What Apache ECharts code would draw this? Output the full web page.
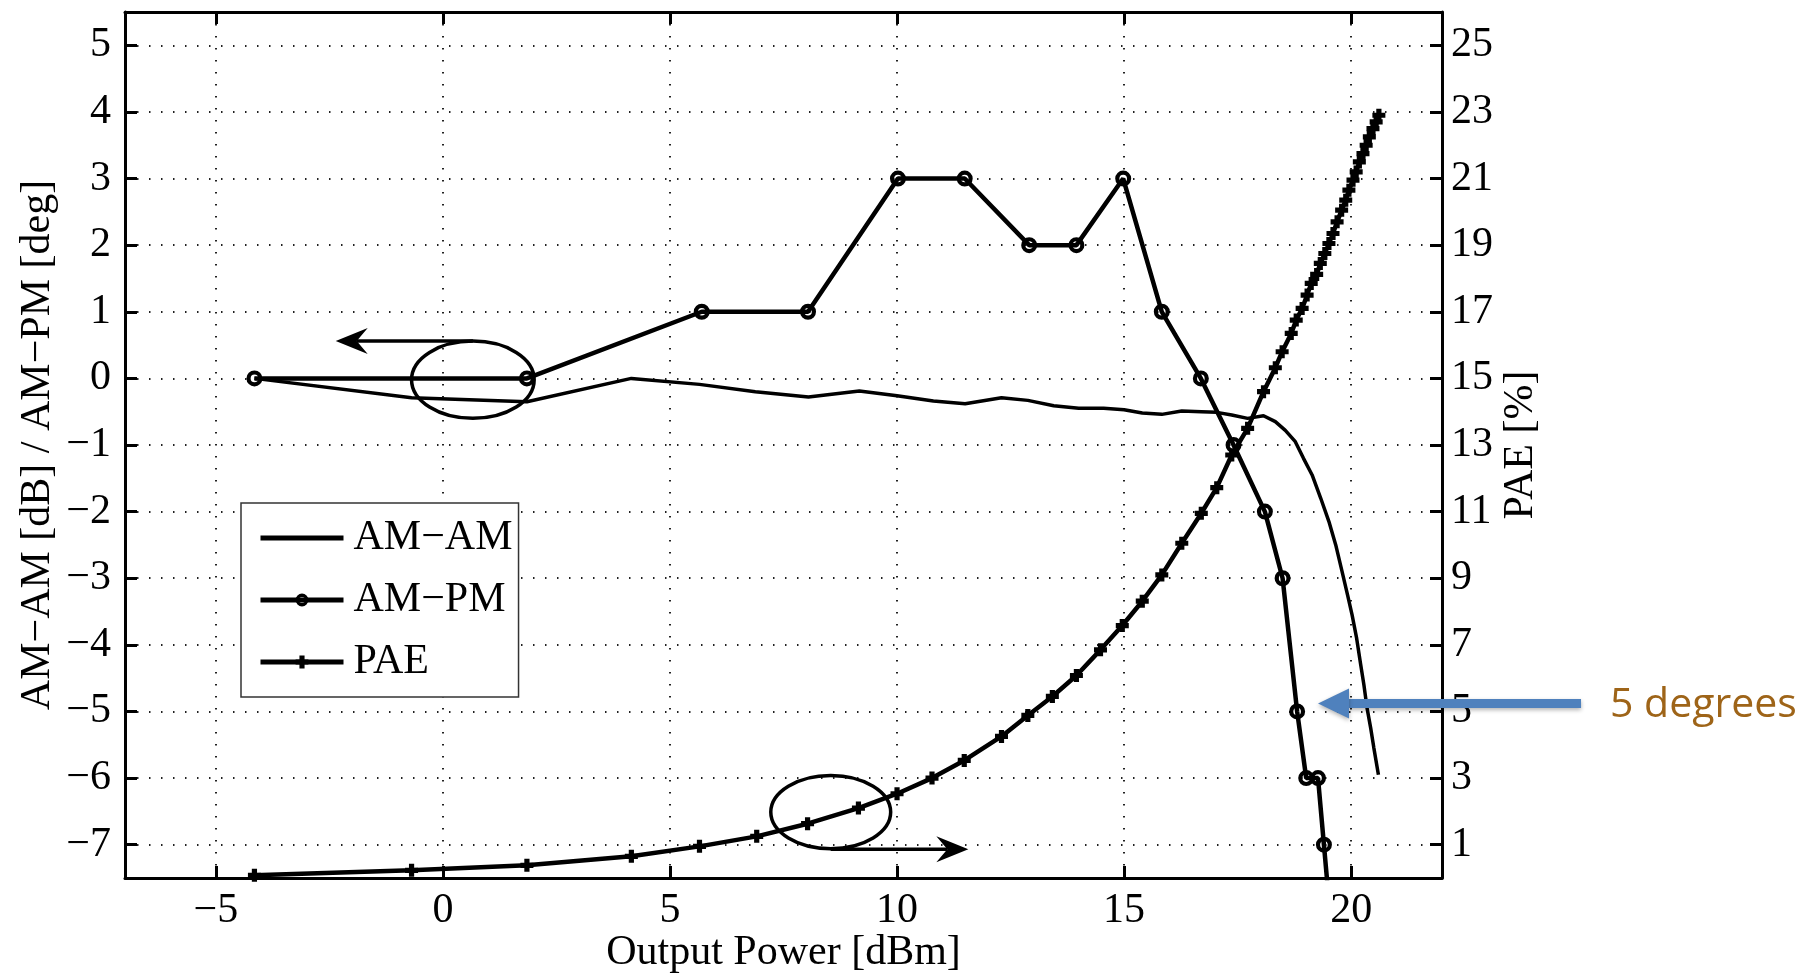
<!DOCTYPE html>
<html>
<head>
<meta charset="utf-8">
<script src="https://cdn.jsdelivr.net/npm/echarts@6/dist/echarts.min.js"></script>
<style>
  html, body { margin: 0; padding: 0; background: #fff; }
  #chart { width: 1816px; height: 975px; }
</style>
</head>
<body>
<div id="chart"></div>
<script>
const amAmPower = [-4.15, -0.69, 1.85, 4.15, 5.65, 6.88, 8.05, 9.17, 10.0, 10.8, 11.5, 12.3, 12.88, 13.45, 14.0,
  14.55, 15.0, 15.4, 15.83, 16.27, 16.7, 17.04, 17.37, 17.72, 18.07, 18.33, 18.55, 18.77, 18.95, 19.14, 19.33,
  19.51, 19.66, 19.8, 19.92, 20.02, 20.12, 20.21, 20.28, 20.35, 20.43, 20.5, 20.6]
const amAm = [0, -0.29, -0.35, 0.0, -0.09, -0.2, -0.28, -0.19, -0.26, -0.34, -0.38, -0.29, -0.33, -0.41, -0.45,
  -0.45, -0.47, -0.52, -0.54, -0.49, -0.5, -0.51, -0.55, -0.6, -0.56, -0.65, -0.78, -0.95, -1.2, -1.45, -1.8,
  -2.15, -2.5, -2.9, -3.25, -3.55, -3.9, -4.3, -4.6, -4.95, -5.25, -5.55, -5.95]

const amPmPower = [-4.15, 1.85, 5.7, 8.04, 10.02, 11.49, 12.91, 13.95, 14.98, 15.83, 16.69, 17.41, 18.1, 18.49,
  18.81, 19.01, 19.27, 19.4, 19.53]
const amPm = [0, 0, 1, 1, 3, 3, 2, 2, 3, 1, 0, -1, -2, -3, -5, -6, -6, -7, -8]

const paePower = [-4.15, -0.69, 1.85, 4.15, 5.65, 6.91, 8.03, 9.15, 10.0, 10.77, 11.48, 12.3, 12.88, 13.42, 13.95,
  14.48, 14.96, 15.4, 15.83, 16.27, 16.7, 17.04, 17.37, 17.72, 18.07, 18.33, 18.48, 18.68, 18.79, 18.92, 19.03,
  19.12, 19.24, 19.32, 19.42, 19.51, 19.6, 19.69, 19.79, 19.88, 19.95, 20.04, 20.11, 20.18, 20.26, 20.33, 20.4,
  20.48, 20.55, 20.61]
const pae = [0.08, 0.23, 0.38, 0.65, 0.95, 1.25, 1.63, 2.1, 2.53, 3.0, 3.53, 4.25, 4.88, 5.45, 6.08,
  6.85, 7.58, 8.31, 9.1, 10.05, 10.95, 11.72, 12.7, 13.5, 14.6, 15.32, 15.8, 16.35, 16.75, 17.1, 17.5,
  17.85, 18.12, 18.45, 18.75, 19.05, 19.35, 19.7, 20.05, 20.35, 20.65, 20.95, 21.2, 21.5, 21.75, 22.0, 22.25,
  22.5, 22.7, 22.9]

// tick labels
const xTicks = [-5, 0, 5, 10, 15, 20]
const leftTicks = [-7, -6, -5, -4, -3, -2, -1, 0, 1, 2, 3, 4, 5]
const rightTicks = [1, 3, 5, 7, 9, 11, 13, 15, 17, 19, 21, 23, 25]

const zip = (xs, ys) => xs.map((x, i) => [x, ys[i]])
const minus = v => (v < 0 ? '\u2212' + Math.abs(v) : String(v))

const serif = 'Liberation Serif'
const black = '#000'
const dots = { color: '#222', width: 2, type: [1.5, 10.5] }
// matlab style markers: bold '+' and a thick open ring
const plus = 'path://M3,0h4v3h3v4h-3v3h-4v-3h-3v-4h3z'
const ring = 'path://M0,8A8,8 0 1,1 16,8A8,8 0 1,1 0,8ZM4.2,8A3.8,3.8 0 1,0 11.8,8A3.8,3.8 0 1,0 4.2,8Z'
const label = { color: black, fontFamily: serif, fontSize: 42 }
const frame = { show: true, onZero: false, lineStyle: { color: black, width: 3 } }
const tick = (values) => ({ show: true, inside: true, length: 12, customValues: values, lineStyle: { color: black, width: 3 } })

const chart = echarts.init(document.getElementById('chart'))

chart.setOption({
  backgroundColor: '#fff',
  animation: false,
  grid: { left: 125, right: 374, top: 12, bottom: 97, containLabel: false, outerBoundsMode: 'none' },
  legend: {
    data: [
      { name: 'AM\u2212AM', itemStyle: { opacity: 0 } },
      { name: 'AM\u2212PM' },
      { name: 'PAE' }
    ],
    orient: 'vertical',
    left: 241,
    top: 503,
    padding: [14, 6, 14, 17],
    itemGap: 20,
    itemWidth: 83,
    itemHeight: 16,
    selectedMode: false,
    borderColor: '#333',
    borderWidth: 1.5,
    borderRadius: 0,
    backgroundColor: '#fff',
    lineStyle: { width: 5 },
    textStyle: { ...label, padding: [0, 0, 0, 5] }
  },
  xAxis: [
    {
      type: 'value', min: -7, max: 22, splitNumber: 5, position: 'bottom',
      name: 'Output Power [dBm]', nameLocation: 'middle', nameGap: 54, nameMoveOverlap: false,
      nameTextStyle: label,
      axisLine: frame,
      axisTick: tick(xTicks),
      axisLabel: { ...label, customValues: xTicks, formatter: minus, margin: 12 },
      splitLine: { show: true, lineStyle: dots }
    },
    {
      type: 'value', min: -7, max: 22, position: 'top',
      axisLine: frame,
      axisTick: tick(xTicks),
      axisLabel: { show: false },
      splitLine: { show: false }
    }
  ],
  yAxis: [
    {
      type: 'value', min: -7.5, max: 5.5, splitNumber: 10, position: 'left',
      name: 'AM\u2212AM [dB] / AM\u2212PM [deg]', nameLocation: 'middle', nameGap: 66, nameRotate: 90,
      nameMoveOverlap: false, nameTextStyle: label,
      axisLine: frame,
      axisTick: tick(leftTicks),
      axisLabel: { ...label, customValues: leftTicks, formatter: minus, margin: 14 },
      splitLine: { show: true, lineStyle: dots }
    },
    {
      type: 'value', min: 0, max: 26, position: 'right',
      name: 'PAE [%]', nameLocation: 'middle', nameGap: 58, nameRotate: 90,
      nameMoveOverlap: false, nameTextStyle: label,
      axisLine: frame,
      axisTick: tick(rightTicks),
      axisLabel: { ...label, customValues: rightTicks, margin: 9 },
      splitLine: { show: false }
    }
  ],
  series: [
    {
      name: 'AM\u2212AM', type: 'line', yAxisIndex: 0,
      data: zip(amAmPower, amAm),
      symbol: 'none',
      lineStyle: { color: black, width: 3.5 },
      itemStyle: { color: black }
    },
    {
      name: 'AM\u2212PM', type: 'line', yAxisIndex: 0,
      data: zip(amPmPower, amPm),
      symbol: ring, symbolSize: 16, showAllSymbol: true,
      lineStyle: { color: black, width: 4.5 },
      itemStyle: { color: black }
    },
    {
      name: 'PAE', type: 'line', yAxisIndex: 1,
      data: zip(paePower, pae),
      symbol: plus, symbolSize: 13, showAllSymbol: true,
      lineStyle: { color: black, width: 4.5 },
      itemStyle: { color: black }
    }
  ]
})

// annotations placed through the axes' own scale
const px = p => chart.convertToPixel({ xAxisIndex: 0, yAxisIndex: 0 }, p)

function ellipse(c, rx, ry) {
  const [cx, cy] = px(c)
  const [ex, ey] = px([c[0] + rx, c[1] - ry])
  return { type: 'ellipse', z: 100, shape: { cx, cy, rx: ex - cx, ry: ey - cy },
    style: { fill: 'none', stroke: black, lineWidth: 3.5 } }
}

function arrow(from, to, color, width, len, half, notch, extra) {
  const dir = Math.sign(to[0] - from[0])
  const bx = to[0] - dir * (len - notch)
  const style = Object.assign({}, extra || {})
  return [
    { type: 'line', z: 100, shape: { x1: from[0], y1: from[1], x2: bx, y2: to[1] },
      style: Object.assign({ stroke: color, lineWidth: width }, style) },
    { type: 'polygon', z: 100, shape: { points: [to, [to[0] - dir * len, to[1] - half], [bx, to[1]], [to[0] - dir * len, to[1] + half]] },
      style: Object.assign({ fill: color }, style) }
  ]
}

const tip = px([19.27, -4.88])
const tail = [tip[0] + 263, tip[1]]
const shadow = { shadowColor: 'rgba(0,0,0,0.3)', shadowBlur: 4, shadowOffsetY: 2 }

chart.setOption({
  graphic: [
    ellipse([0.66, -0.02], 1.35, 0.58),
    ...arrow(px([0.66, 0.56]), px([-2.36, 0.56]), black, 3.5, 32, 13, 11),
    ellipse([8.54, -6.51], 1.32, 0.55),
    ...arrow(px([8.54, -7.07]), px([11.57, -7.07]), black, 3.5, 32, 13, 11),
    ...arrow(tail, tip, '#4f81bd', 9, 31, 15, 0, shadow),
    {
      type: 'text', z: 100, x: tail[0] + 29, y: tip[1] + 2,
      style: { text: '5 degrees', fill: '#9e6418', font: '41px "Open Sans"', verticalAlign: 'middle' }
    }
  ]
})
</script>
</body>
</html>
